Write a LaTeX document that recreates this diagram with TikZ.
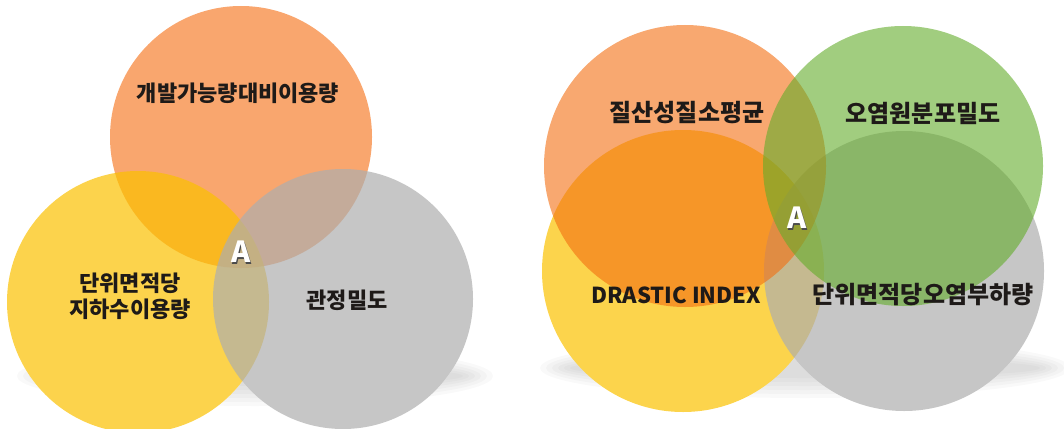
\documentclass[tikz,border=0pt]{standalone}
\usepackage{fontspec}
\newfontfamily\kr{Noto Sans CJK KR}
\definecolor{orL}{RGB}{249,166,110}
\definecolor{yeA}{RGB}{251,193,0}
\definecolor{yeR}{RGB}{252,212,76}
\definecolor{grA}{RGB}{174,174,174}
\definecolor{orA}{RGB}{243,110,17}
\definecolor{gnA}{RGB}{99,172,42}
\definecolor{txt}{RGB}{30,26,24}
\tikzset{
  lbl/.style={font=\kr\bfseries\fontsize{22}{26}\selectfont, text=txt, align=center, inner sep=0pt},
  lblr/.style={font=\kr\bfseries\fontsize{24}{26}\selectfont, text=txt, align=center, inner sep=0pt},
  lbll/.style={font=\kr\bfseries\fontsize{22}{26}\selectfont, text=txt, align=center, inner sep=0pt},
  amark/.style={font=\kr\bfseries\fontsize{29}{30}\selectfont, text=white, inner sep=0pt},
  ashadow/.style={font=\kr\bfseries\fontsize{29}{30}\selectfont, text=black!70, inner sep=0pt},
  floorshadow/.style={fill=black, draw=none, opacity=0.025}
}
\begin{document}
\begin{tikzpicture}[x=1pt,y=-1pt]
\useasboundingbox (0,0) rectangle (1064,428);
% soft floor shadows
\foreach \k in {0,...,5}{
  \fill[floorshadow] (255,376) ellipse [x radius={238-6*\k}, y radius={30-4*\k}];
  \fill[floorshadow] (805,368) ellipse [x radius={265-6*\k}, y radius={30-4*\k}];
}
% ---------- left diagram ----------
\coordinate (lo) at (241,137);
\coordinate (ly) at (138,302);
\coordinate (lg) at (343,299);
\fill[white] (ly) circle [radius=131];
\fill[white] (lg) circle [radius=130];
\fill[orL] (lo) circle [radius=131];
\fill[yeA, opacity=0.7] (ly) circle [radius=131];
\fill[grA, opacity=0.7] (lg) circle [radius=130];
\node[lbl] (t1) at (238,93) {개발가능량대비이용량};
\node[lbl] (t2) at (130,296) {단위면적당\\지하수이용량};
\node[lbl] (t3) at (347,300) {관정밀도};
\node[ashadow] (a1s) at (242.5,253.5) {A};
\node[amark] (a1) at (241,252) {A};
% ---------- right diagram ----------
\coordinate (ry) at (683,271);
\coordinate (rg) at (904,271);
\coordinate (ro) at (685,166);
\coordinate (rn) at (903,166);
\fill[white] (rg) circle [radius=140];
\fill[yeR] (ry) circle [radius=141];
\fill[grA, opacity=0.7] (rg) circle [radius=140];
\fill[orA, opacity=0.6] (ro) circle [radius=141];
\fill[gnA, opacity=0.6] (rn) circle [radius=140];
\node[lblr] (t4) at (687,113) {질산성질소평균};
\node[lblr] (t5) at (923,113) {오염원분포밀도};
\node[lbll] (t6) at (676,295) {DRASTIC INDEX};
\node[lblr] (t7) at (923,295) {단위면적당오염부하량};
\node[ashadow] (a2s) at (798.5,219.5) {A};
\node[amark] (a2) at (797,218) {A};
\end{tikzpicture}
\end{document}
